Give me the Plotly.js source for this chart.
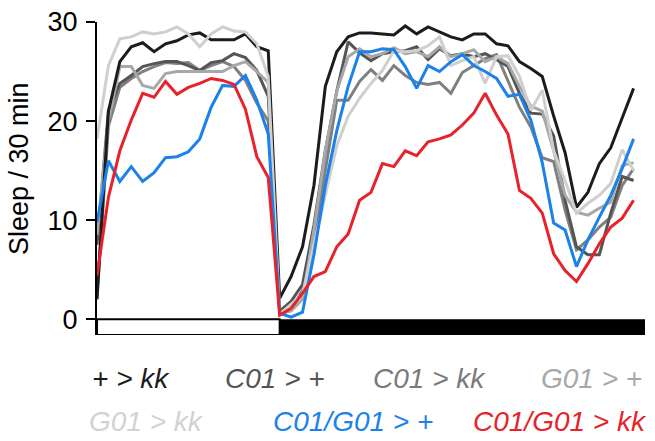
<!DOCTYPE html>
<html>
<head>
<meta charset="utf-8">
<script src="https://cdn.plot.ly/plotly-3.0.1.min.js"></script>
<style>
html,body{margin:0;padding:0;background:#fff;}
#chart{width:655px;height:441px;}
</style>
</head>
<body>
<div id="chart"></div>
<script>
// half-hour bins (0..47); light phase 0-16, dark phase 16-48
const bins = Array.from({length: 48}, (_, i) => i);

const seriesNames = ["+ > kk", "C01 > +", "C01 > kk", "G01 > +", "G01 > kk", "C01/G01 > +", "C01/G01 > kk"];

const plusKk = [2.0, 21.0, 26.0, 27.5, 27.9, 27.0, 27.8, 28.1, 28.7, 28.9, 28.2, 28.2, 28.2, 28.8, 27.5, 27.1, 2.1,
  4.3, 7.3, 13.5, 23.5, 27.0, 28.5, 28.9, 28.9, 28.8, 28.7, 29.6, 28.8, 29.5, 29.0, 28.5, 28.2, 28.8, 28.8, 27.8, 27.6, 26.0, 25.3, 24.5, 20.5, 16.8, 11.3, 12.8, 15.7, 17.3, 20.3, 23.3];

const c01Plus = [7.5, 21.0, 23.8, 24.6, 25.5, 25.8, 26.0, 26.0, 25.6, 25.1, 25.9, 26.1, 26.8, 26.4, 25.1, 22.5, 0.8,
  1.8, 3.5, 9.5, 17.0, 23.0, 28.0, 26.9, 26.1, 26.8, 27.0, 27.1, 27.5, 26.2, 27.3, 26.6, 26.8, 26.5, 26.8, 26.2, 25.5, 22.8, 20.8, 20.7, 18.5, 12.0, 7.3, 6.5, 6.5, 10.7, 14.4, 14.0];

const c01Kk = [2.2, 19.5, 23.4, 24.3, 25.0, 25.5, 25.9, 25.8, 25.9, 25.1, 25.6, 26.0, 25.5, 24.1, 21.8, 20.0, 0.8,
  1.0, 2.9, 7.6, 15.0, 22.1, 22.1, 24.0, 25.2, 24.1, 25.6, 24.6, 23.9, 23.7, 23.9, 22.8, 24.9, 25.6, 26.3, 26.7, 24.1, 21.4, 19.4, 16.3, 15.9, 11.0, 7.0, 8.0, 9.3, 10.3, 13.5, 15.2];

const g01Plus = [8.5, 20.0, 25.5, 25.5, 23.6, 23.3, 24.8, 25.0, 25.0, 25.0, 25.0, 25.0, 25.6, 26.0, 25.0, 23.9, 0.6,
  0.8, 2.0, 9.0, 17.0, 23.0, 26.5, 27.3, 26.5, 26.8, 27.4, 26.8, 27.0, 26.5, 27.5, 26.5, 26.8, 27.2, 26.0, 26.5, 25.8, 23.5, 21.5, 21.0, 17.0, 12.5, 10.8, 10.5, 11.2, 11.8, 15.5, 15.8];

const g01Kk = [18.2, 25.6, 28.3, 28.5, 29.0, 28.8, 29.0, 29.5, 28.8, 27.5, 28.8, 29.5, 29.1, 29.0, 27.8, 24.5, 0.5,
  1.5, 2.5, 7.5, 12.5, 17.5, 20.5, 22.3, 23.8, 25.1, 27.1, 27.0, 27.1, 27.6, 28.5, 25.6, 26.1, 26.5, 23.8, 26.5, 26.6, 24.5, 21.1, 23.1, 17.0, 14.0, 10.7, 11.7, 12.5, 13.7, 17.1, 15.0];

const c01g01Plus = [9.8, 16.0, 13.9, 15.4, 13.9, 14.8, 16.3, 16.4, 16.9, 18.2, 21.4, 23.6, 23.5, 24.6, 22.1, 18.7, 0.6,
  0.2, 0.7, 6.5, 13.5, 19.0, 23.5, 27.0, 27.0, 27.3, 27.2, 25.5, 23.3, 25.6, 25.0, 26.0, 26.7, 25.6, 25.0, 24.3, 22.5, 22.7, 20.1, 15.8, 9.7, 9.0, 5.3, 8.0, 10.3, 12.5, 15.2, 18.2];

const c01g01Kk = [4.4, 12.3, 17.0, 20.1, 22.8, 22.4, 24.0, 22.7, 23.4, 23.8, 24.3, 24.1, 23.7, 21.2, 16.4, 14.3, 0.4,
  1.1, 2.6, 4.3, 4.8, 7.3, 8.6, 12.0, 12.8, 15.7, 15.4, 17.0, 16.5, 17.9, 18.2, 18.6, 19.6, 20.8, 22.8, 20.6, 18.7, 13.0, 12.2, 10.7, 6.6, 4.9, 3.8, 5.6, 7.6, 9.3, 10.2, 12.0];

const yTicks = [0, 10, 20, 30];
const lightEnd = 16, dayEnd = 48;

const colors = ["#1c1c1c", "#555555", "#808080", "#a8a8a8", "#cfcfcf", "#1a82ea", "#e8222b"];
const values = [plusKk, c01Plus, c01Kk, g01Plus, g01Kk, c01g01Plus, c01g01Kk];
const drawOrder = [2, 1, 3, 0, 4, 5, 6];

const traces = drawOrder.map(k => ({
  x: bins, y: values[k], type: 'scatter', mode: 'lines', name: seriesNames[k],
  line: {color: colors[k], width: 3}, hoverinfo: 'skip'
}));

// pixel helpers for paper placement
const L = 97, R = 645, T = 22, B = 335;
const px = x => (x - L) / (R - L);
const py = y => (B - y) / (B - T);

const legendPos = [
  [90, 378], [223, 378], [371, 378], [539, 378],
  [87, 421], [271, 421], [471, 421]
];
const legendColors = ["#1c1c1c", "#555555", "#7a7a7a", "#a8a8a8", "#d2d2d2", "#1a82ea", "#e8222b"];

const annotations = seriesNames.map((n, k) => ({
  xref: 'paper', yref: 'paper', x: px(legendPos[k][0]), y: py(legendPos[k][1]),
  xanchor: 'left', yanchor: 'middle', showarrow: false, text: n,
  font: {family: 'Arial, Liberation Sans, sans-serif', size: 28, style: 'italic', color: legendColors[k]}
}));
annotations.push({
  xref: 'paper', yref: 'paper', x: px(19), y: py(169), xanchor: 'center', yanchor: 'middle',
  textangle: -90, showarrow: false, text: 'Sleep / 30 min',
  font: {family: 'Arial, Liberation Sans, sans-serif', size: 27, color: '#000'}
});

const layout = {
  width: 655, height: 441,
  margin: {l: L, r: 655 - R, t: T, b: 441 - B, pad: 0},
  paper_bgcolor: '#fff', plot_bgcolor: '#fff',
  showlegend: false,
  xaxis: {range: [0, dayEnd], visible: false, fixedrange: true},
  yaxis: {
    range: [-1.6, 30], tickvals: yTicks, ticktext: yTicks.map(String),
    ticks: 'outside', ticklen: 9, tickwidth: 2, tickcolor: '#000',
    showline: true, linewidth: 2, linecolor: '#000',
    showgrid: false, zeroline: false,
    tickfont: {family: 'Arial, Liberation Sans, sans-serif', size: 27, color: '#000'},
    ticklabelstandoff: 3
  },
  shapes: [
    {type: 'rect', xref: 'x', yref: 'y', x0: 0, x1: lightEnd, y0: -1.6, y1: 0,
     fillcolor: '#fff', line: {color: '#000', width: 2}, layer: 'below'},
    {type: 'rect', xref: 'x', yref: 'y', x0: lightEnd, x1: dayEnd, y0: -1.6, y1: 0,
     fillcolor: '#000', line: {color: '#000', width: 0}, layer: 'below'}
  ],
  annotations: annotations
};

Plotly.newPlot('chart', traces, layout, {staticPlot: true, displayModeBar: false});
</script>
</body>
</html>
